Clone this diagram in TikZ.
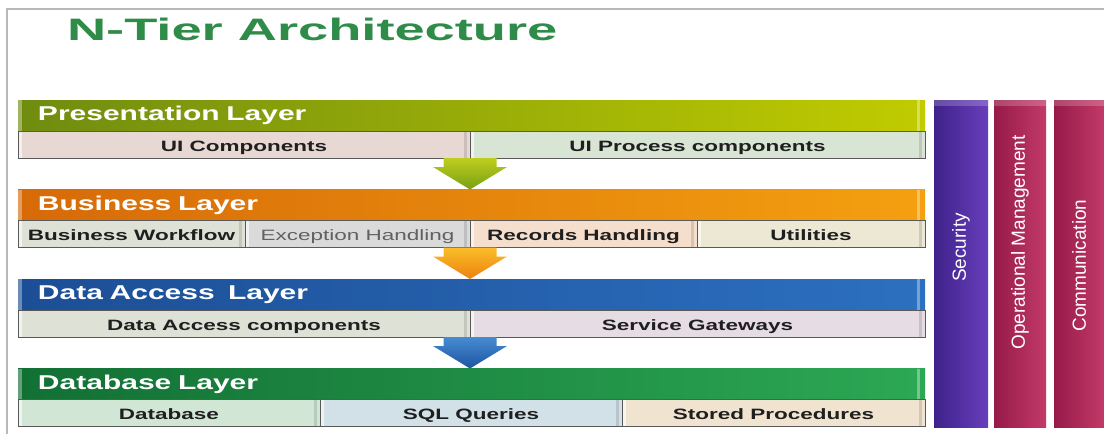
\documentclass[tikz,border=0pt]{standalone}
\usepackage{fontspec}
\setmainfont{Liberation Sans}
\newfontfamily\widesans{Liberation Sans}[FakeStretch=1.5]
\newfontfamily\titlesans{Liberation Sans}[FakeStretch=1.75]
\usetikzlibrary{positioning}

\definecolor{TitleGreen}{RGB}{46,140,72}
\definecolor{PLleft}{RGB}{112,140,16}
\definecolor{PLright}{RGB}{192,204,0}
\definecolor{BLleft}{RGB}{214,106,8}
\definecolor{BLright}{RGB}{244,160,16}
\definecolor{DALleft}{RGB}{28,78,150}
\definecolor{DALright}{RGB}{44,112,192}
\definecolor{DBLleft}{RGB}{18,112,52}
\definecolor{DBLright}{RGB}{44,168,84}
\definecolor{SECleft}{RGB}{62,34,138}
\definecolor{SECright}{RGB}{104,62,188}
\definecolor{OPMleft}{RGB}{150,26,72}
\definecolor{OPMright}{RGB}{194,58,104}
\definecolor{cPink}{RGB}{232,216,212}
\definecolor{cMint}{RGB}{216,228,212}
\definecolor{cSage}{RGB}{222,226,214}
\definecolor{cGray}{RGB}{218,218,218}
\definecolor{cPeach}{RGB}{246,222,204}
\definecolor{cCream}{RGB}{236,232,212}
\definecolor{cLilac}{RGB}{230,220,228}
\definecolor{cGreen}{RGB}{210,230,214}
\definecolor{cBlue}{RGB}{210,224,232}
\definecolor{cSand}{RGB}{240,228,208}
\definecolor{AGreenT}{RGB}{190,206,30}
\definecolor{AGreenB}{RGB}{120,160,20}
\definecolor{AOrangeT}{RGB}{250,190,40}
\definecolor{AOrangeB}{RGB}{236,130,16}
\definecolor{ABlueT}{RGB}{70,140,210}
\definecolor{ABlueB}{RGB}{30,84,160}

\tikzset{
  layerbar/.style={anchor=north west,minimum width=453.5pt,minimum height=15.5pt,
    inner xsep=10pt,inner ysep=0pt,outer sep=0pt,text width=433.5pt,align=left,text=white,
    font=\widesans\bfseries\fontsize{10}{12}\selectfont,
    path picture={\fill[white,opacity=.35] (path picture bounding box.north west) rectangle ([xshift=2pt]path picture bounding box.south west);
      \fill[white,opacity=.35] ([xshift=-4pt]path picture bounding box.north east) rectangle ([xshift=-2.5pt]path picture bounding box.south east);}},
  compcell/.style={minimum height=13.5pt,inner sep=0pt,outer sep=0pt,draw=gray!70!black,line width=0.4pt,
    text height=1.6ex,text depth=.3ex,
    text=black!88,font=\widesans\bfseries\fontsize{7.5}{9}\selectfont,
    path picture={\fill[white,opacity=.6] (path picture bounding box.north west) rectangle ([xshift=2pt]path picture bounding box.south west);
      \fill[black,opacity=.12] ([xshift=-3pt]path picture bounding box.north east) rectangle ([xshift=-1.5pt]path picture bounding box.south east);}},
  sidebar/.style={anchor=north west,minimum height=163.5pt,inner sep=0pt,outer sep=0pt,
    path picture={\fill[white,opacity=.2] (path picture bounding box.north west) rectangle ([yshift=-3pt]path picture bounding box.north east);}},
  sidetext/.style={rotate=90,text=white,font=\fontsize{9.5}{11}\selectfont},
}
% block arrow from the row above (#1) down to the next layer (#2)
\newcommand{\TierArrow}[4]{%
  \shade[top color=#3,bottom color=#4] ([xshift=-13.25pt]#1) -- ([xshift=13.25pt]#1)
    -- ([shift={(13.25pt,-4.5pt)}]#1) -- ([shift={(18.5pt,-4.5pt)}]#1) -- (#1 |- #2)
    -- ([shift={(-18.5pt,-4.5pt)}]#1) -- ([shift={(-13.25pt,-4.5pt)}]#1) -- cycle;}

\begin{document}
\begin{tikzpicture}[x=0.5pt,y=-0.5pt]
\useasboundingbox (0,0) rectangle (1104,434);
\draw[gray!55,line width=0.6pt] (1104,9) -| (7,434);
\node[anchor=west,text=TitleGreen,font=\titlesans\bfseries\fontsize{15.5}{18}\selectfont] (TTL) at (60,29) {N-Tier Architecture};
% presentation layer
\node[layerbar,left color=PLleft,right color=PLright] (PL) at (18,100) {Presentation Layer};
\node[compcell,anchor=north west,minimum width=226pt,fill=cPink] (UIC) at (PL.south west) {UI Components};
\node[compcell,right=0pt of UIC,minimum width=227.5pt,fill=cMint] (UIP) {UI Process components};
% business layer
\node[layerbar,below=15.75pt of UIC.south west,anchor=north west,left color=BLleft,right color=BLright] (BL) {Business Layer};
\node[compcell,anchor=north west,minimum width=113.5pt,fill=cSage] (BW) at (BL.south west) {Business Workflow};
\node[compcell,right=0pt of BW,minimum width=112.5pt,fill=cGray,text=black!62,font=\widesans\fontsize{7.5}{9}\selectfont] (EH) {Exception Handling};
\node[compcell,right=0pt of EH,minimum width=113.5pt,fill=cPeach] (RH) {Records Handling};
\node[compcell,right=0pt of RH,minimum width=114pt,fill=cCream] (UT) {Utilities};
% data access layer
\node[layerbar,below=15.75pt of BW.south west,anchor=north west,left color=DALleft,right color=DALright] (DAL) {Data Access\ \ Layer};
\node[compcell,anchor=north west,minimum width=226pt,fill=cSage] (DAC) at (DAL.south west) {Data Access components};
\node[compcell,right=0pt of DAC,minimum width=227.5pt,fill=cLilac] (SG) {Service Gateways};
% database layer
\node[layerbar,below=15.75pt of DAC.south west,anchor=north west,left color=DBLleft,right color=DBLright] (DBL) {Database Layer};
\node[compcell,anchor=north west,minimum width=151pt,fill=cGreen] (DB) at (DBL.south west) {Database};
\node[compcell,right=0pt of DB,minimum width=151pt,fill=cBlue] (SQL) {SQL Queries};
\node[compcell,right=0pt of SQL,minimum width=151.5pt,fill=cSand] (SP) {Stored Procedures};
% arrows between tiers
\TierArrow{UIC.south east}{BL.north}{AGreenT}{AGreenB}
\TierArrow{EH.south east}{DAL.north}{AOrangeT}{AOrangeB}
\TierArrow{DAC.south east}{DBL.north}{ABlueT}{ABlueB}
% cross-cutting bars
\node[sidebar,right=4.5pt of PL.north east,anchor=north west,minimum width=27pt,left color=SECleft,right color=SECright] (SEC) {};
\node[sidebar,right=3pt of SEC.north east,anchor=north west,minimum width=26pt,left color=OPMleft,right color=OPMright] (OPM) {};
\node[sidebar,right=4pt of OPM.north east,anchor=north west,minimum width=25pt,left color=OPMleft,right color=OPMright] (COM) {};
\node[sidetext] (SECT) at ([yshift=8pt]SEC.center) {Security};
\node[sidetext] (OPMT) at ([yshift=10.5pt]OPM.center) {Operational Management};
\node[sidetext] (COMT) at ([yshift=-1pt]COM.center) {Communication};
\end{tikzpicture}
\end{document}
